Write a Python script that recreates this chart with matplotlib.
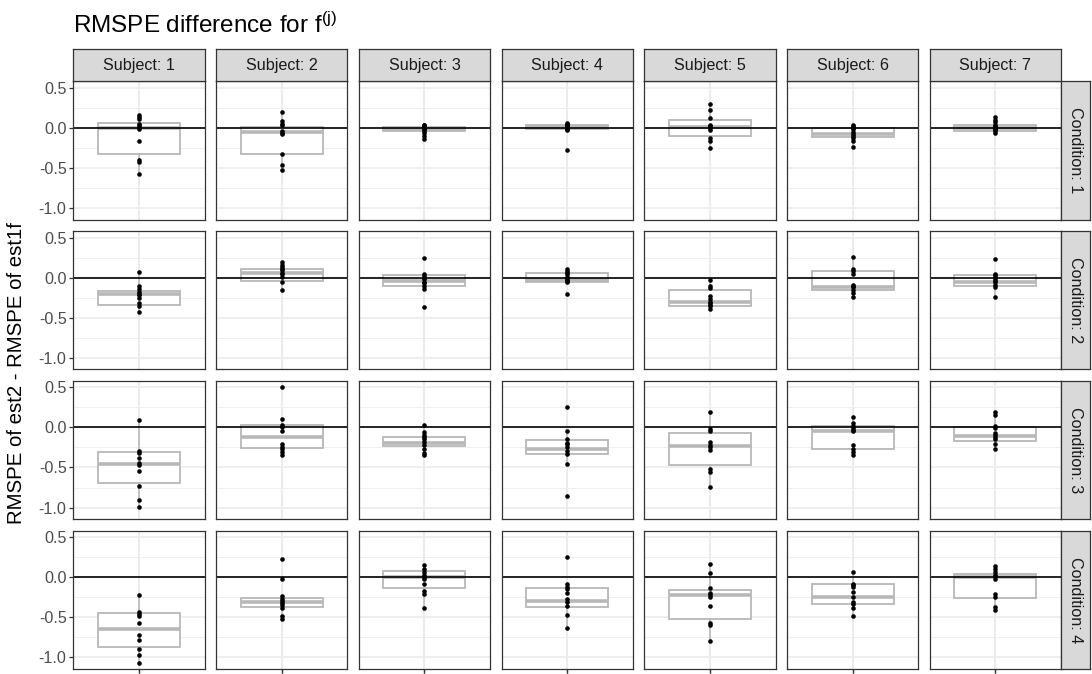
import matplotlib
matplotlib.use("Agg")
import matplotlib.pyplot as plt
import numpy as np

plt.rcParams['font.family'] = ['Liberation Sans', 'DejaVu Sans']
plt.rcParams['mathtext.fontset'] = 'custom'
plt.rcParams['mathtext.rm'] = 'Liberation Sans'

subjects = [1, 2, 3, 4, 5, 6, 7]
conditions = [1, 2, 3, 4]
y_ticks = [-1.0, -0.5, 0.0, 0.5]
y_tick_labels = ["-1.0", "-0.5", "0.0", "0.5"]
y_minor = [-0.75, -0.25, 0.25]

# RMSPE differences per subject, one list of lists per condition
cond1_points = [
    [0.16, 0.13, 0.11, 0.05, 0.03, 0.01, -0.01, -0.17, -0.40, -0.43, -0.57],
    [0.20, 0.08, 0.05, 0.03, -0.04, -0.06, -0.08, -0.33, -0.47, -0.53],
    [0.04, 0.03, 0.01, 0.0, -0.01, -0.02, -0.04, -0.06, -0.10, -0.14],
    [0.06, 0.05, 0.03, 0.02, 0.01, 0.0, -0.01, -0.02, -0.03, -0.28],
    [0.30, 0.22, 0.12, 0.04, 0.02, 0.0, -0.03, -0.13, -0.16, -0.25],
    [0.04, 0.02, 0.0, -0.02, -0.05, -0.08, -0.10, -0.13, -0.17, -0.24],
    [0.13, 0.10, 0.07, 0.04, 0.02, 0.01, -0.01, -0.02, -0.04, -0.07],
]
cond2_points = [
    [0.07, -0.10, -0.14, -0.18, -0.20, -0.22, -0.25, -0.32, -0.35, -0.43],
    [0.19, 0.16, 0.13, 0.11, 0.09, 0.06, 0.04, 0.01, -0.06, -0.15],
    [0.25, 0.04, 0.02, 0.0, -0.02, -0.05, -0.07, -0.10, -0.14, -0.37],
    [0.11, 0.08, 0.06, 0.04, 0.01, -0.01, -0.03, -0.04, -0.06, -0.21],
    [-0.03, -0.11, -0.13, -0.23, -0.27, -0.30, -0.32, -0.34, -0.36, -0.39],
    [0.26, 0.11, 0.08, 0.04, -0.09, -0.11, -0.12, -0.15, -0.19, -0.24],
    [0.23, 0.05, 0.03, 0.01, -0.02, -0.04, -0.06, -0.09, -0.12, -0.24],
]
cond3_points = [
    [0.09, -0.30, -0.32, -0.38, -0.44, -0.47, -0.54, -0.73, -0.91, -0.99],
    [0.51, 0.11, 0.03, 0.01, -0.04, -0.21, -0.24, -0.27, -0.31, -0.34],
    [0.03, -0.06, -0.09, -0.12, -0.15, -0.18, -0.22, -0.27, -0.32, -0.34],
    [0.25, -0.05, -0.15, -0.19, -0.21, -0.25, -0.30, -0.33, -0.46, -0.86],
    [0.19, -0.02, -0.04, -0.18, -0.22, -0.25, -0.28, -0.52, -0.56, -0.74],
    [0.13, 0.05, 0.02, -0.01, -0.03, -0.05, -0.22, -0.27, -0.31, -0.35],
    [0.19, 0.15, 0.02, -0.01, -0.07, -0.10, -0.12, -0.15, -0.21, -0.27],
]
cond4_points = [
    [-0.22, -0.43, -0.46, -0.49, -0.57, -0.72, -0.78, -0.90, -0.97, -1.07],
    [0.23, -0.02, -0.24, -0.27, -0.30, -0.32, -0.35, -0.38, -0.49, -0.52],
    [0.15, 0.10, 0.07, 0.03, 0.0, -0.02, -0.09, -0.17, -0.21, -0.38],
    [0.25, -0.09, -0.12, -0.15, -0.20, -0.27, -0.31, -0.36, -0.47, -0.63],
    [0.16, 0.05, -0.14, -0.20, -0.22, -0.25, -0.36, -0.57, -0.60, -0.80],
    [0.07, -0.08, -0.10, -0.12, -0.19, -0.25, -0.31, -0.34, -0.38, -0.48],
    [0.14, 0.10, 0.07, 0.03, 0.01, -0.02, -0.21, -0.25, -0.37, -0.41],
]

# (lower quartile, median, upper quartile) per subject
cond1_boxes = [(-0.33, 0.0, 0.055), (-0.325, -0.05, 0.01), (-0.035, -0.01, 0.01),
               (-0.015, 0.01, 0.03), (-0.105, 0.01, 0.095), (-0.11, -0.08, -0.005),
               (-0.035, 0.0, 0.03)]
cond2_boxes = [(-0.34, -0.205, -0.165), (-0.04, 0.06, 0.11), (-0.11, -0.04, 0.03),
               (-0.05, -0.03, 0.055), (-0.35, -0.31, -0.16), (-0.15, -0.12, 0.08),
               (-0.10, -0.06, 0.03)]
cond3_boxes = [(-0.69, -0.455, -0.31), (-0.26, -0.125, 0.03), (-0.23, -0.20, -0.12),
               (-0.33, -0.27, -0.155), (-0.47, -0.23, -0.07), (-0.27, -0.04, 0.02),
               (-0.175, -0.105, 0.0)]
cond4_boxes = [(-0.87, -0.65, -0.45), (-0.37, -0.31, -0.26), (-0.14, 0.0, 0.075),
               (-0.37, -0.30, -0.14), (-0.52, -0.22, -0.155), (-0.34, -0.25, -0.09),
               (-0.26, 0.0, 0.045)]

points_by_cond = [cond1_points, cond2_points, cond3_points, cond4_points]
boxes_by_cond = [cond1_boxes, cond2_boxes, cond3_boxes, cond4_boxes]

W, H, DPI = 1092, 674, 100
fig = plt.figure(figsize=(W / DPI, H / DPI), dpi=DPI)
fig.patch.set_facecolor('white')


def px_axes(x0, y0, w, h):
    return fig.add_axes([x0 / W, 1 - (y0 + h) / H, w / W, h / H])


left0, top0 = 73.3, 81.3
panel_w, panel_h = 131.3, 138.3
step_x, step_y = 142.75, 149.8
strip_h = 32.0
strip_right_w = 29.0

border_col = '#333333'
grid_col = '#EBEBEB'
box_col = '#B8B8B8'
strip_fill = '#D9D9D9'
tick_len = 4 * 72 / DPI
axis_fs = 11.6


def box_stats(pts, q1, med, q3):
    arr = np.asarray(pts)
    iqr = q3 - q1
    lo = arr[arr >= q1 - 1.5 * iqr].min()
    hi = arr[arr <= q3 + 1.5 * iqr].max()
    return dict(q1=q1, med=med, q3=q3, whislo=min(lo, q1), whishi=max(hi, q3), fliers=[])


for r, cond in enumerate(conditions):
    for c, subj in enumerate(subjects):
        ax = px_axes(left0 + c * step_x, top0 + r * step_y, panel_w, panel_h)
        ax.set_xlim(0.4, 1.6)
        ax.set_ylim(-1.145, 0.58)
        ax.set_facecolor('white')
        ax.set_yticks(y_ticks)
        ax.set_yticks(y_minor, minor=True)
        ax.set_xticks([1])
        ax.grid(which='major', color=grid_col, lw=1.1, zorder=0)
        ax.grid(which='minor', axis='y', color=grid_col, lw=0.55, zorder=0)
        ax.set_axisbelow(True)
        for s in ax.spines.values():
            s.set_color(border_col)
            s.set_linewidth(0.9)
            s.set_zorder(6)

        pts = points_by_cond[r][c]
        q1, med, q3 = boxes_by_cond[r][c]
        ax.bxp([box_stats(pts, q1, med, q3)], positions=[1], widths=0.75,
               showcaps=False, showfliers=False, patch_artist=True,
               boxprops=dict(facecolor='white', edgecolor=box_col, lw=1.3),
               medianprops=dict(color=box_col, lw=2.6, solid_capstyle='butt'),
               whiskerprops=dict(color=box_col, lw=1.1), zorder=2)
        ax.axhline(0, color='black', lw=1.2, zorder=3)
        ax.plot(np.ones(len(pts)), pts, 'o', color='black', ms=3.3,
                mec='black', mew=0, zorder=4)

        ax.tick_params(axis='y', which='minor', length=0)
        if c == 0:
            ax.set_yticklabels(y_tick_labels)
            ax.tick_params(axis='y', which='major', length=tick_len, width=0.9,
                           color=border_col, labelcolor='#4D4D4D',
                           labelsize=axis_fs, pad=2)
        else:
            ax.tick_params(axis='y', which='major', length=0, labelleft=False)
        if r == len(conditions) - 1:
            ax.tick_params(axis='x', length=tick_len, width=0.9, color=border_col,
                           labelbottom=False)
        else:
            ax.tick_params(axis='x', length=0, labelbottom=False)

        # subject strips along the top row
        if r == 0:
            sax = px_axes(left0 + c * step_x, top0 - strip_h, panel_w, strip_h)
            sax.set_facecolor(strip_fill)
            sax.set_xticks([])
            sax.set_yticks([])
            for s in sax.spines.values():
                s.set_color(border_col)
                s.set_linewidth(0.9)
            sax.text(0.5, 0.5, f"Subject: {subj}", ha='center', va='center',
                     fontsize=axis_fs, color='#1A1A1A', transform=sax.transAxes)

        # condition strips along the right column
        if c == len(subjects) - 1:
            rax = px_axes(left0 + c * step_x + panel_w, top0 + r * step_y,
                          strip_right_w, panel_h)
            rax.set_facecolor(strip_fill)
            rax.set_xticks([])
            rax.set_yticks([])
            for s in rax.spines.values():
                s.set_color(border_col)
                s.set_linewidth(0.9)
            rax.text(0.5, 0.5, f"Condition: {cond}", ha='center', va='center',
                     rotation=-90, fontsize=axis_fs, color='#1A1A1A',
                     transform=rax.transAxes)

fig.text(73 / W, 1 - 33 / H, r"RMSPE difference for $\mathregular{f^{(j)}}$",
         ha='left', va='baseline', fontsize=17.5, color='black')
fig.text(17 / W, 1 - 373 / H, "RMSPE of est2 - RMSPE of est1f", rotation=90,
         ha='center', va='center', fontsize=14.7, color='black')

fig.savefig("out.png", dpi=DPI, facecolor='white')
